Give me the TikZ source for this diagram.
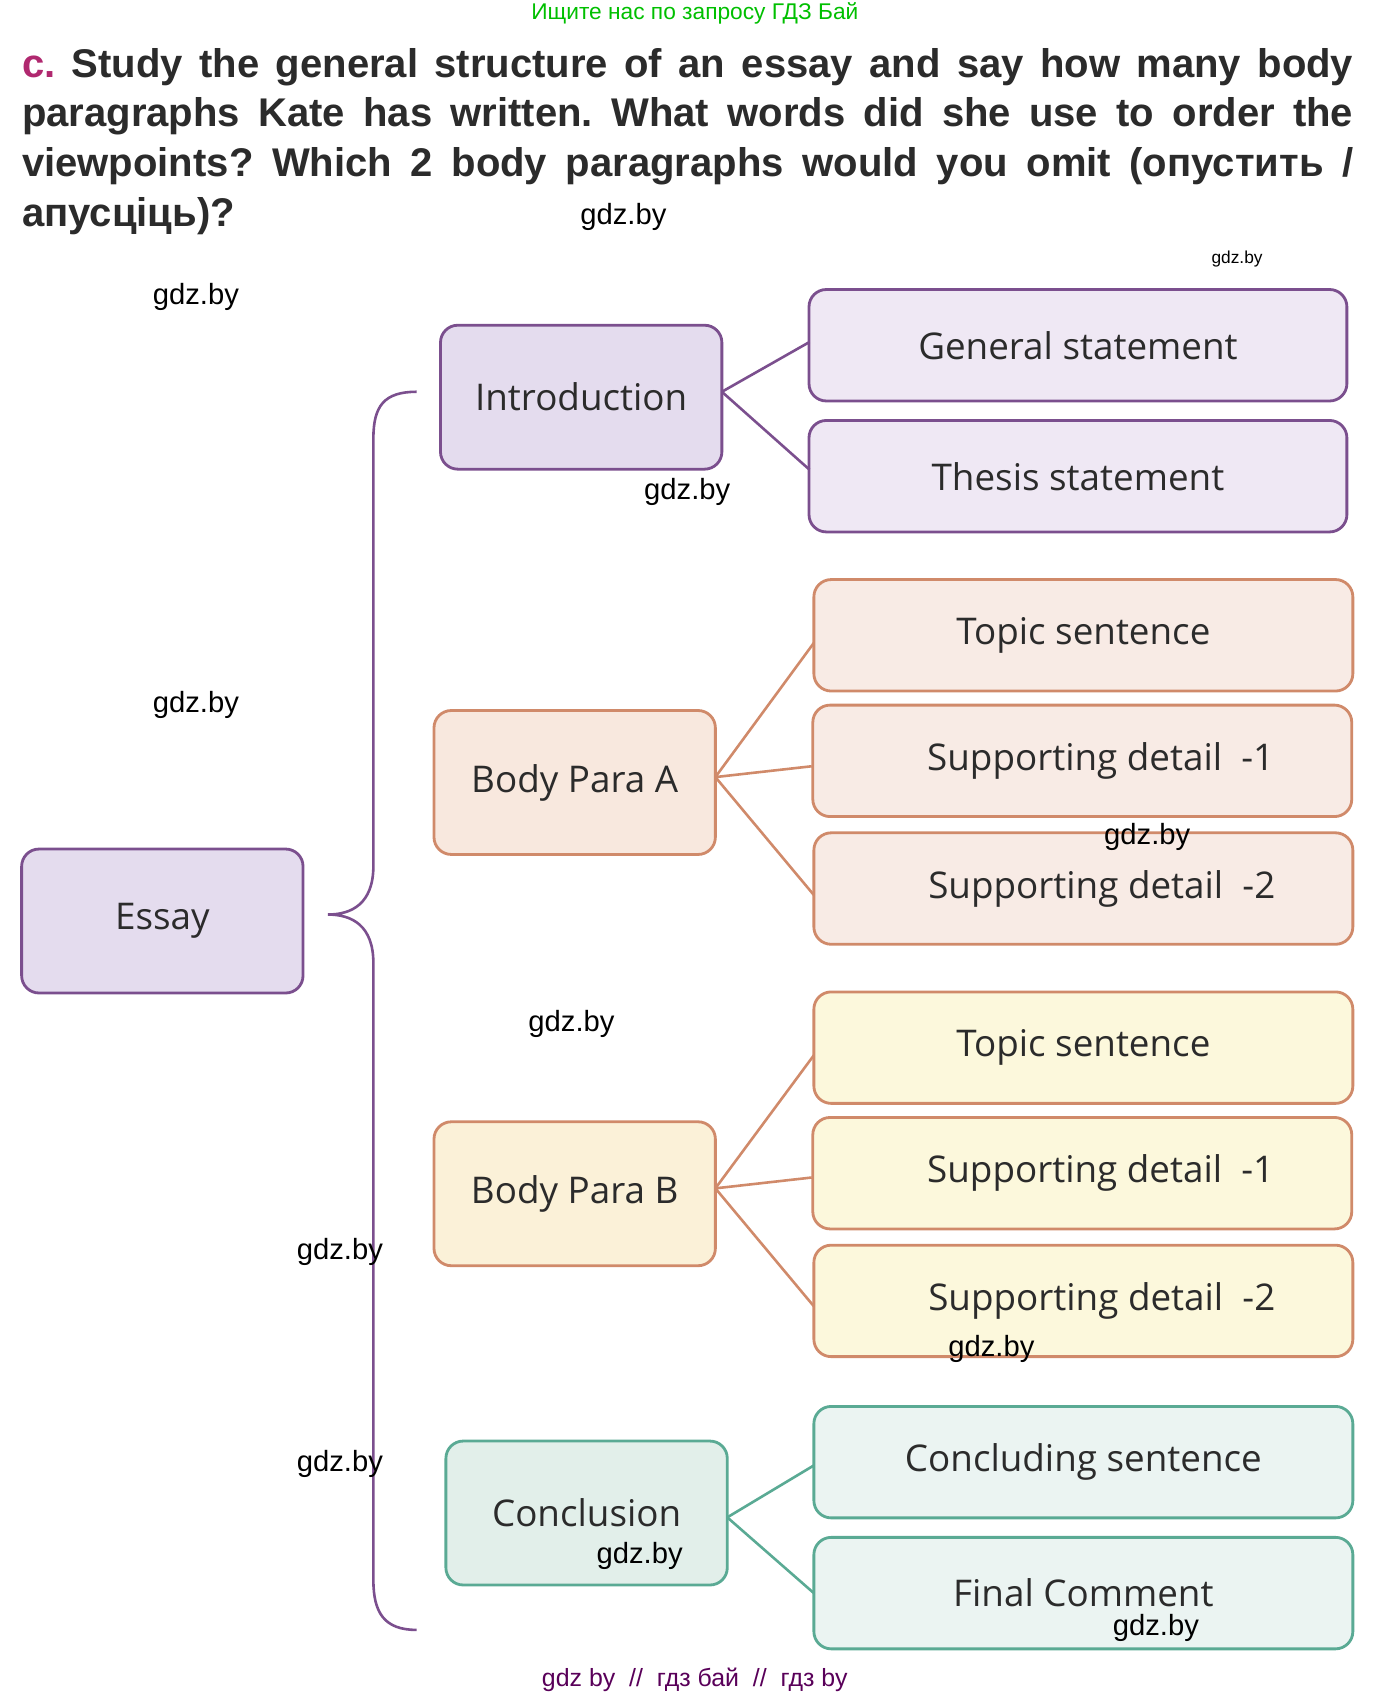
\documentclass[tikz,border=0pt]{standalone}
\usepackage{fontspec}
\setmainfont{Liberation Sans}
\newfontfamily\boxfont{Open Sans}
\newfontfamily\wmfont{Liberation Sans}
\definecolor{pb}{HTML}{7B4F8E}\definecolor{pf}{HTML}{E4DCEE}\definecolor{pf2}{HTML}{EFE8F4}
\definecolor{ob}{HTML}{D08A6A}\definecolor{of}{HTML}{F8E8DE}\definecolor{of2}{HTML}{F8EBE5}
\definecolor{yf}{HTML}{FBF1D8}\definecolor{yf2}{HTML}{FCF8DC}
\definecolor{gb}{HTML}{5AAA94}\definecolor{gf}{HTML}{E2EFEA}\definecolor{gf2}{HTML}{EBF4F2}
\definecolor{tx}{HTML}{2B2B2B}\definecolor{mag}{HTML}{B0286F}
\begin{document}
\frenchspacing
\begin{tikzpicture}[x=0.5pt,y=-0.5pt,
 bx/.style={draw,line width=1.3pt,rounded corners=8pt,font=\boxfont\fontsize{17}{20}\selectfont,text=tx},
 wm/.style={font=\wmfont\fontsize{13.5}{15}\selectfont,text=black},
 ln/.style={line width=1.2pt}]
\useasboundingbox (0,0) rectangle (1287,1568);
\node[font=\fontsize{10.5}{12}\selectfont,text=green!75!black] (hd) at (642,12) {Ищите нас по запросу ГДЗ Бай};
\node[anchor=north west,inner sep=0pt,text=tx,font=\bfseries\fontsize{18.5}{23}\selectfont,text width=615pt,align=justify] (title) at (20,44)
 {\textcolor{mag}{c.} Study the general structure of an essay and say how many body paragraphs Kate has written. What words did she use to order the viewpoints? Which 2 body paragraphs would you omit (опустить / апусціць)?};
\node[bx,draw=pb,fill=pf,minimum width=130pt,minimum height=66.5pt] (essay) at (150,851) {Essay};
\node[bx,draw=pb,fill=pf,minimum width=130pt,minimum height=66.5pt] (intro) at (537,367) {Introduction};
\node[bx,draw=pb,fill=pf2,minimum width=248.5pt,minimum height=51.5pt] (gs) at (996,319) {General statement};
\node[bx,draw=pb,fill=pf2,minimum width=248.5pt,minimum height=51.5pt] (ts) at (996,440) {Thesis statement};
\node[bx,draw=ob,fill=of,minimum width=130pt,minimum height=66.5pt] (ba) at (531,723) {Body Para A};
\node[bx,draw=ob,fill=of2,minimum width=249pt,minimum height=51.5pt] (a1) at (1001,587) {Topic sentence};
\node[bx,draw=ob,fill=of2,minimum width=249pt,minimum height=51.5pt] (a2) at (1000,703) {\quad Supporting detail~~-1};
\node[bx,draw=ob,fill=of2,minimum width=249pt,minimum height=51.5pt] (a3) at (1001,821) {\quad Supporting detail~~-2};
\node[bx,draw=ob,fill=yf,minimum width=130pt,minimum height=66.5pt] (bb) at (531,1103) {Body Para B};
\node[bx,draw=ob,fill=yf2,minimum width=249pt,minimum height=51.5pt] (b1) at (1001,968) {Topic sentence};
\node[bx,draw=ob,fill=yf2,minimum width=249pt,minimum height=51.5pt] (b2) at (1000,1084) {\quad Supporting detail~~-1};
\node[bx,draw=ob,fill=yf2,minimum width=249pt,minimum height=51.5pt] (b3) at (1001,1202) {\quad Supporting detail~~-2};
\node[bx,draw=gb,fill=gf,minimum width=130pt,minimum height=66.5pt] (cc) at (542,1398) {Conclusion};
\node[bx,draw=gb,fill=gf2,minimum width=249pt,minimum height=51.5pt] (c1) at (1001,1351) {Concluding sentence};
\node[bx,draw=gb,fill=gf2,minimum width=249pt,minimum height=51.5pt] (c2) at (1001,1472) {Final Comment};
\coordinate (ir) at (667,362);
\draw[ln,pb] (ir) -- (748,316); \draw[ln,pb] (ir) -- (748,434);
\coordinate (ar) at (661,718);
\draw[ln,ob] (ar) -- (752,594); \draw[ln,ob] (ar) -- (750,708); \draw[ln,ob] (ar) -- (752,827);
\coordinate (br) at (661,1098);
\draw[ln,ob] (br) -- (752,975); \draw[ln,ob] (br) -- (750,1088); \draw[ln,ob] (br) -- (752,1207);
\coordinate (cr) at (672,1402);
\draw[ln,gb] (cr) -- (752,1354); \draw[ln,gb] (cr) -- (752,1472);
\coordinate (bt) at (385,362); \coordinate (bm) at (303,845); \coordinate (bbt) at (385,1506);
\draw[ln,pb] (bt) .. controls (355,362) and (345,375) .. (345,405) -- (345,800)
  .. controls (345,835) and (325,845) .. (bm)
  .. controls (325,845) and (345,855) .. (345,890) -- (345,1460)
  .. controls (345,1490) and (355,1506) .. (bbt);
\node[wm] (w1) at (576,200) {gdz.by};
\node[wm,font=\wmfont\fontsize{8}{9}\selectfont] (w2) at (1143,239) {gdz.by};
\node[wm] (w3) at (181,274) {gdz.by};
\node[wm] (w4) at (635,455) {gdz.by};
\node[wm] (w5) at (181,651) {gdz.by};
\node[wm] (w6) at (1060,773) {gdz.by};
\node[wm] (w7) at (528,946) {gdz.by};
\node[wm] (w8) at (314,1157) {gdz.by};
\node[wm] (w9) at (916,1246) {gdz.by};
\node[wm] (w10) at (314,1353) {gdz.by};
\node[wm] (w11) at (591,1438) {gdz.by};
\node[wm] (w12) at (1068,1504) {gdz.by};
\node[font=\fontsize{11.5}{13}\selectfont,text=violet!70!black] (ft) at (642,1552) {gdz by~~//~~гдз бай~~//~~гдз by};
\end{tikzpicture}
\end{document}
